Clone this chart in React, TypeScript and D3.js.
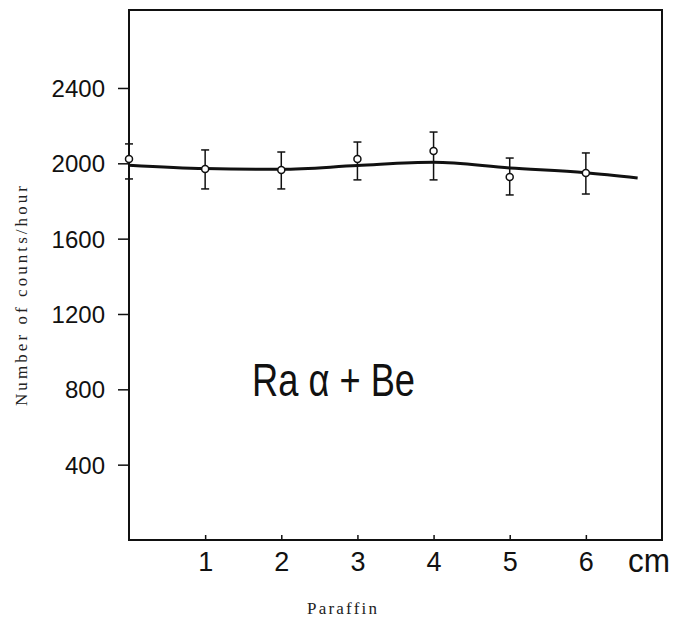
import React, { useEffect, useRef } from "react";
import * as d3 from "d3";

// Paraffin thickness (cm) and measured counts/hour with error bars
const distance = [0, 1, 2, 3, 4, 5, 6];
const counts = [2023, 1970, 1965, 2023, 2066, 1927, 1949];
const errLow = [1917, 1864, 1864, 1912, 1912, 1832, 1837];
const errHigh = [2103, 2071, 2060, 2113, 2166, 2028, 2055];

// hand drawn smooth curve through the points
const curveX = [0, 1, 2, 3, 4, 5, 6, 6.68];
const curveY = [1990, 1972, 1968, 1988, 2005, 1975, 1950, 1922];

const xTicks = [1, 2, 3, 4, 5, 6];
const yTicks = [400, 800, 1200, 1600, 2000, 2400];

const width = 674;
const height = 619;

const handFont = "'Liberation Sans', 'DejaVu Sans', sans-serif";
const bookFont = "'Liberation Serif', 'DejaVu Serif', serif";

export default function App() {
    const ref = useRef<SVGSVGElement>(null);

    useEffect(() => {
        const svg = d3.select(ref.current);
        svg.selectAll("*").remove();

        const x = d3.scaleLinear().domain([0, 7]).range([129, 662]);
        const y = d3.scaleLinear().domain([0, 2814]).range([540, 10]);

        // frame
        svg.append("path")
            .attr("d", `M${x(0)},${y(2814)}H${x(7)}V${y(0)}H${x(0)}Z`)
            .attr("fill", "none")
            .attr("stroke", "#111")
            .attr("stroke-width", 2);

        // y axis
        const yAxis = svg.append("g")
            .attr("transform", `translate(${x(0)},0)`)
            .call(d3.axisLeft(y).tickValues(yTicks).tickSize(11).tickPadding(13).tickFormat(d3.format("d")));
        yAxis.select(".domain").remove();
        yAxis.selectAll("line").attr("stroke", "#111").attr("stroke-width", 1.5);
        yAxis.selectAll("text")
            .attr("fill", "#111")
            .attr("font-family", handFont)
            .attr("font-size", 24)
            .attr("dy", "0.36em");

        // x axis (ticks point inward)
        const xAxis = svg.append("g")
            .attr("transform", `translate(0,${y(0)})`)
            .call(d3.axisBottom(x).tickValues(xTicks).tickSize(-5).tickPadding(12).tickFormat(d3.format("d")));
        xAxis.select(".domain").remove();
        xAxis.selectAll("line").attr("stroke", "#111").attr("stroke-width", 1.5);
        xAxis.selectAll("text")
            .attr("fill", "#111")
            .attr("font-family", handFont)
            .attr("font-size", 27);

        svg.append("text")
            .attr("x", 628)
            .attr("y", 572)
            .attr("font-family", handFont)
            .attr("font-size", 34)
            .attr("textLength", 42)
            .attr("lengthAdjust", "spacingAndGlyphs")
            .attr("fill", "#111")
            .text("cm");

        // curve
        const line = d3.line<number>()
            .x((d, i) => x(curveX[i]))
            .y(d => y(d))
            .curve(d3.curveMonotoneX);
        svg.append("path")
            .attr("d", line(curveY))
            .attr("fill", "none")
            .attr("stroke", "#111")
            .attr("stroke-width", 3);

        // error bars
        const bars = svg.append("g").attr("stroke", "#111").attr("stroke-width", 1.5);
        distance.forEach((d, i) => {
            const cx = x(d);
            bars.append("line").attr("x1", cx).attr("x2", cx).attr("y1", y(errLow[i])).attr("y2", y(errHigh[i]));
            bars.append("line").attr("x1", cx - 4).attr("x2", cx + 4).attr("y1", y(errLow[i])).attr("y2", y(errLow[i]));
            bars.append("line").attr("x1", cx - 4).attr("x2", cx + 4).attr("y1", y(errHigh[i])).attr("y2", y(errHigh[i]));
        });

        // points
        svg.append("g")
            .selectAll("circle")
            .data(counts)
            .enter().append("circle")
            .attr("cx", (d, i) => x(distance[i]))
            .attr("cy", d => y(d))
            .attr("r", 3.5)
            .attr("fill", "#fff")
            .attr("stroke", "#111")
            .attr("stroke-width", 1.5);

        // annotation
        svg.append("text")
            .attr("x", 252)
            .attr("y", 396)
            .attr("font-family", handFont)
            .attr("font-size", 46)
            .attr("textLength", 163)
            .attr("lengthAdjust", "spacingAndGlyphs")
            .attr("fill", "#111")
            .text("Ra α + Be");

        // axis titles
        svg.append("text")
            .attr("transform", "translate(27,296) rotate(-90)")
            .attr("text-anchor", "middle")
            .attr("font-family", bookFont)
            .attr("font-size", 17)
            .attr("textLength", 220)
            .attr("lengthAdjust", "spacing")
            .attr("fill", "#222")
            .text("Number of counts/hour");

        svg.append("text")
            .attr("x", 342)
            .attr("y", 614)
            .attr("text-anchor", "middle")
            .attr("font-family", bookFont)
            .attr("font-size", 17)
            .attr("textLength", 70)
            .attr("lengthAdjust", "spacing")
            .attr("fill", "#222")
            .text("Paraffin");
    }, []);

    return (
        <svg
            ref={ref}
            width={width}
            height={height}
            style={{ position: "absolute", left: 0, top: 0, background: "#fff" }}
        />
    );
}
